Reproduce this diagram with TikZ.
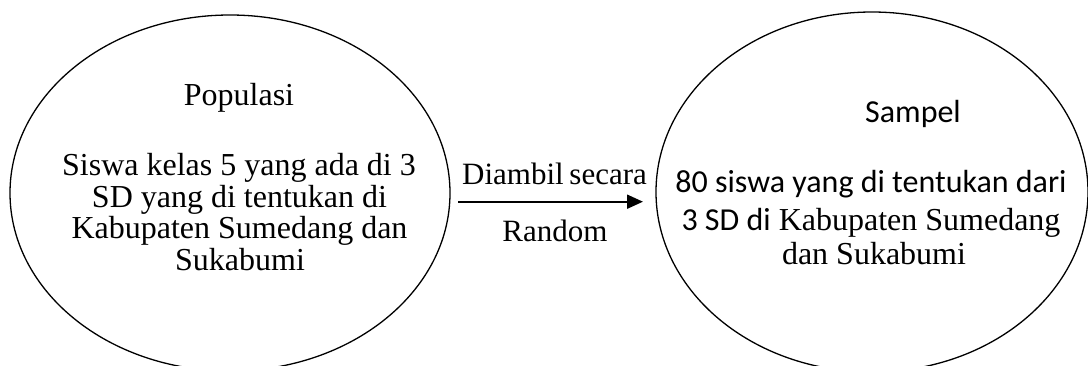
\documentclass[tikz,border=0pt]{standalone}
\usepackage{fontspec}
\setmainfont{Liberation Serif}
\newfontfamily\calibfont{Carlito}
\usetikzlibrary{shapes.geometric,arrows.meta}
\begin{document}
\begin{tikzpicture}[x=1pt,y=-1pt,
  bubble/.style={draw=black,ellipse,line width=1.3pt,inner sep=0pt},
  txt/.style={anchor=base,inner sep=0pt,font=\fontsize{32}{31.5}\selectfont},
  stxt/.style={txt,font=\fontsize{32}{31.5}\selectfont\calibfont},
  conn/.style={line width=2pt,-{Triangle[length=16pt,width=14pt]}}]
\useasboundingbox (0,0) rectangle (1088,366);
% ellipses
\node[bubble,minimum width=440pt,minimum height=356pt] (pop) at (230,193) {};
\node[bubble,minimum width=432pt,minimum height=360pt] (samp) at (872,192) {};
% left text
\node[txt] (popt) at (239,106) {Populasi};
\node[txt] (pl1) at (239,176) {Siswa kelas 5 yang ada di 3};
\node[txt] (pl2) at (239.5,207.5) {SD yang di tentukan di};
\node[txt] (pl3) at (239.5,239) {Kabupaten Sumedang dan};
\node[txt] (pl4) at (240,270.5) {Sukabumi};
% right text
\node[stxt] (sampt) at (913,123) {Sampel};
\node[stxt] (sl1) at (871,193) {80 siswa yang di tentukan dari};
\node[txt] (sl2) at (871,231) {{\calibfont 3 SD di} Kabupaten Sumedang};
\node[txt] (sl3) at (874,265) {dan Sukabumi};
% arrow
\coordinate (as) at (458,201.7);
\coordinate (ae) at (643,201.7);
\draw[conn] (as) -- (ae);
\node[txt,font=\fontsize{31}{31}\selectfont] (lab1) at (554.5,185) {Diambil\kern-2pt\ secara};
\node[txt,font=\fontsize{31}{31}\selectfont] (lab2) at (555,242) {Random};
\end{tikzpicture}
\end{document}
